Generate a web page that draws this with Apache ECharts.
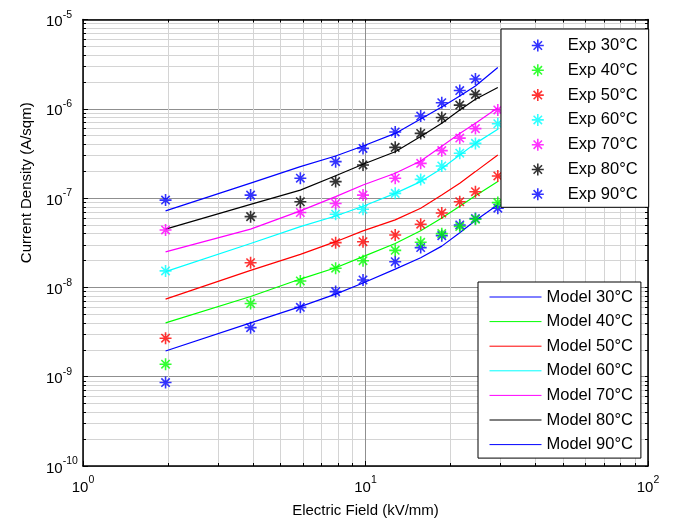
<!DOCTYPE html>
<html><head><meta charset="utf-8">
<script src="https://cdn.jsdelivr.net/npm/echarts@6/dist/echarts.min.js"></script>
<style>html,body{margin:0;padding:0;background:#fff}#c{width:673px;height:523px}</style>
</head><body><div id="c"></div>
<script>
// ---- data ----
const fieldX = [1.96, 3.92, 5.88, 7.84, 9.8, 12.74, 15.68, 18.62, 21.56, 24.5, 29.4];

const exp30 = [8.6e-10, 3.54e-9, 5.98e-9, 8.97e-9, 1.21e-8, 1.94e-8, 2.79e-8, 3.8e-8, 5.0e-8, 5.9e-8, 7.7e-8];
const exp40 = [1.38e-9, 6.6e-9, 1.18e-8, 1.64e-8, 1.99e-8, 2.6e-8, 3.2e-8, 4.0e-8, 4.8e-8, 5.8e-8, 8.9e-8];
const exp50 = [2.7e-9, 1.89e-8, null, 3.17e-8, 3.25e-8, 3.86e-8, 5.1e-8, 6.8e-8, 9.1e-8, 1.18e-7, 1.77e-7];
const exp60 = [1.53e-8, null, null, 6.6e-8, 7.5e-8, 1.13e-7, 1.62e-7, 2.29e-7, 3.18e-7, 4.1e-7, 6.8e-7];
const exp70 = [4.4e-8, null, 6.9e-8, 8.7e-8, 1.08e-7, 1.67e-7, 2.45e-7, 3.4e-7, 4.7e-7, 6.0e-7, 9.7e-7];
const exp80 = [null, 6.2e-8, 9.1e-8, 1.53e-7, 2.35e-7, 3.7e-7, 5.3e-7, 8.0e-7, 1.1e-6, 1.45e-6, null];
const exp90 = [9.5e-8, 1.08e-7, 1.67e-7, 2.56e-7, 3.6e-7, 5.5e-7, 8.3e-7, 1.17e-6, 1.6e-6, 2.16e-6, null];

const model30 = [1.94e-9, 4.0e-9, 6.1e-9, 8.4e-9, 1.12e-8, 1.6e-8, 2.15e-8, 2.9e-8, 4.1e-8, 5.6e-8, 8.4e-8];
const model40 = [4.0e-9, 7.9e-9, 1.24e-8, 1.66e-8, 2.21e-8, 3.1e-8, 4.3e-8, 6.0e-8, 8.1e-8, 1.06e-7, 1.53e-7];
const model50 = [7.4e-9, 1.55e-8, 2.34e-8, 3.25e-8, 4.3e-8, 5.7e-8, 7.7e-8, 1.08e-7, 1.47e-7, 1.98e-7, 3.04e-7];
const model60 = [1.5e-8, 3.1e-8, 4.8e-8, 6.3e-8, 8.1e-8, 1.13e-7, 1.53e-7, 2.15e-7, 3.04e-7, 4.1e-7, 5.9e-7];
const model70 = [2.5e-8, 4.5e-8, 7.2e-8, 1.04e-7, 1.4e-7, 1.9e-7, 2.6e-7, 3.8e-7, 5.3e-7, 6.9e-7, 1.03e-6];
const model80 = [4.5e-8, 8.5e-8, 1.23e-7, 1.78e-7, 2.39e-7, 3.3e-7, 4.9e-7, 6.9e-7, 9.7e-7, 1.28e-6, 1.73e-6];
const model90 = [7.2e-8, 1.47e-7, 2.25e-7, 2.96e-7, 3.83e-7, 5.3e-7, 7.7e-7, 1.05e-6, 1.39e-6, 1.8e-6, 2.9e-6];

const temps = ['30°C', '40°C', '50°C', '60°C', '70°C', '80°C', '90°C'];
const colors = ['#0000ff', '#00ff00', '#ff0000', '#00ffff', '#ff00ff', '#000000', '#0000ff'];
const expSets = [exp30, exp40, exp50, exp60, exp70, exp80, exp90];
const modelSets = [model30, model40, model50, model60, model70, model80, model90];

const xTickLabels = [1, 10, 100];
const yTickLabels = [1e-10, 1e-9, 1e-8, 1e-7, 1e-6, 1e-5];
const gridMantissas = [1, 2, 3, 4, 5, 6, 7, 8, 9];

// ---- helpers ----
const FONT = '"Liberation Sans", Arial, Helvetica, sans-serif';
const STAR = 'path://M5,0L5,10M0,5L10,5M1.5,1.5L8.5,8.5M1.5,8.5L8.5,1.5';

function pairs(vals) {
  const out = [];
  vals.forEach((v, i) => { if (v !== null) out.push([fieldX[i], v]); });
  return out;
}
function decadeGrid(lo, hi) { // exponent-space positions of 1..9 x 10^k gridlines
  const out = [];
  for (let e = lo; e < hi; e++) gridMantissas.forEach(m => out.push(e + Math.log10(m)));
  out.push(hi);
  return out;
}
const rich = {
  b: { fontFamily: FONT, fontSize: 15, color: '#000', lineHeight: 20, verticalAlign: 'bottom' },
  e: { fontFamily: FONT, fontSize: 10.5, color: '#000', lineHeight: 12, verticalAlign: 'top' }
};
function powLabel(v) { return '{b|10}{e|' + Math.round(Math.log10(v)) + '}'; }

const MAJOR = '#8f8f8f', MINOR = '#d4d4d4';
const gridColors = [MAJOR, MINOR, MINOR, MINOR, MINOR, MINOR, MINOR, MINOR, MINOR];
const xMinor = decadeGrid(0, 2);
const yMinor = decadeGrid(-10, -5);

const series = [];
temps.forEach((t, i) => {
  series.push({
    type: 'scatter', name: 'Exp ' + t, xAxisIndex: 0, yAxisIndex: 0,
    data: pairs(expSets[i]), symbol: STAR, symbolSize: 12,
    itemStyle: { color: 'rgba(0,0,0,0)', borderColor: colors[i], borderWidth: 1.6 },
    z: 3, silent: true
  });
});
temps.forEach((t, i) => {
  series.push({
    type: 'line', name: 'Model ' + t, xAxisIndex: 0, yAxisIndex: 0,
    data: pairs(modelSets[i]), symbol: 'none', showSymbol: false,
    lineStyle: { color: colors[i], width: 1.2 }, itemStyle: { color: colors[i] },
    z: 2, silent: true
  });
});

const hide = { show: false };
const option = {
  animation: false,
  backgroundColor: '#fff',
  grid: { left: 83, top: 19.5, right: 25, bottom: 57, containLabel: false, outerBoundsMode: 'none' },
  xAxis: [
    { type: 'log', logBase: 10, min: 1, max: 100, position: 'bottom',
      axisLine: { show: true, lineStyle: { color: '#000', width: 1.5 } },
      axisTick: { show: true, inside: true, length: 5, lineStyle: { color: '#000' } },
      axisLabel: { show: true, margin: 9, formatter: powLabel, rich: rich },
      splitLine: hide,
      name: 'Electric Field (kV/mm)', nameLocation: 'middle', nameGap: 37,
      nameTextStyle: { fontFamily: FONT, fontSize: 15, color: '#000' } },
    { type: 'value', min: 0, max: 2, position: 'bottom',
      axisLine: hide, axisLabel: hide,
      axisTick: { show: true, inside: true, length: 3, customValues: xMinor, lineStyle: { color: '#000' } },
      splitLine: { show: true, lineStyle: { color: gridColors, width: 1 } } },
    { type: 'value', min: 0, max: 2, position: 'top',
      axisLine: { show: true, lineStyle: { color: '#000', width: 1.5 } }, axisLabel: hide,
      axisTick: { show: true, inside: true, length: 3, customValues: xMinor, lineStyle: { color: '#000' } },
      splitLine: hide }
  ],
  yAxis: [
    { type: 'log', logBase: 10, min: 1e-10, max: 1e-5, position: 'left',
      axisLine: { show: true, lineStyle: { color: '#000', width: 1.5 } },
      axisTick: { show: true, inside: true, length: 5, lineStyle: { color: '#000' } },
      axisLabel: { show: true, margin: 37, align: 'left', formatter: powLabel, rich: rich },
      splitLine: hide,
      name: 'Current Density (A/sqm)', nameLocation: 'middle', nameGap: 49,
      nameTextStyle: { fontFamily: FONT, fontSize: 15, color: '#000', padding: [0, 0, 0, 120] } },
    { type: 'value', min: -10, max: -5, position: 'left',
      axisLine: hide, axisLabel: hide,
      axisTick: { show: true, inside: true, length: 3, customValues: yMinor, lineStyle: { color: '#000' } },
      splitLine: { show: true, lineStyle: { color: gridColors, width: 1 } } },
    { type: 'value', min: -10, max: -5, position: 'right',
      axisLine: { show: true, lineStyle: { color: '#000', width: 1.5 } }, axisLabel: hide,
      axisTick: { show: true, inside: true, length: 3, customValues: yMinor, lineStyle: { color: '#000' } },
      splitLine: hide }
  ],
  legend: [
    { data: temps.map(t => 'Exp ' + t), orient: 'vertical', left: 501, top: 29,
      padding: [7, 11, 3.5, 30], itemGap: 5.8, itemWidth: 50, itemHeight: 12,
      backgroundColor: '#fff', borderColor: '#000', borderWidth: 1, borderRadius: 0,
      selectedMode: false, itemStyle: { borderWidth: 1.6 },
      textStyle: { fontFamily: FONT, fontSize: 16.5, color: '#000', lineHeight: 19 } },
    { data: temps.map(t => 'Model ' + t), orient: 'vertical', left: 478, top: 282,
      padding: [5.5, 8, 4, 11], itemGap: 5.6, itemWidth: 52, itemHeight: 6,
      backgroundColor: '#fff', borderColor: '#000', borderWidth: 1, borderRadius: 0,
      selectedMode: false, lineStyle: { width: 1 },
      itemStyle: { color: 'rgba(0,0,0,0)', borderColor: 'rgba(0,0,0,0)', borderWidth: 0 },
      textStyle: { fontFamily: FONT, fontSize: 16.5, color: '#000', lineHeight: 19 } }
  ],
  series: series
};
const chart = echarts.init(document.getElementById('c'), null, { renderer: 'canvas' });
chart.setOption(option);
</script>
</body></html>
